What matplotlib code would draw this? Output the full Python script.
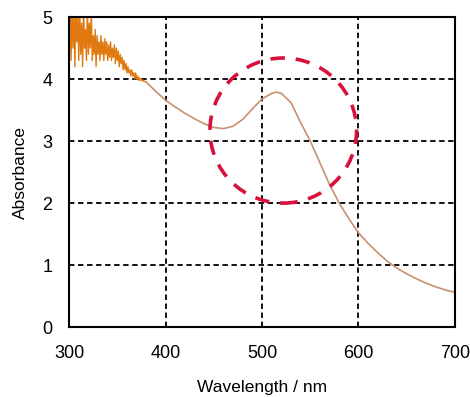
import matplotlib
matplotlib.use("Agg")
from matplotlib import pyplot as plt
from matplotlib.patches import Ellipse

plt.rcParams['font.family'] = ['Liberation Sans', 'DejaVu Sans']

# noisy short-wavelength part (1 nm steps)
wl_noisy = list(range(300, 381))
abs_noisy = [4.2, 5.2, 4.3, 5.2, 4.5, 5.1, 4.2, 5.3, 4.6, 5.0,
             4.3, 5.2, 4.4, 4.9, 4.2, 5.2, 4.5, 4.8, 4.3, 5.2,
             4.4, 4.9, 4.5, 5.1, 4.3, 4.7, 4.4, 4.8, 4.2, 4.7,
             4.4, 4.6, 4.3, 4.7, 4.4, 4.6, 4.3, 4.65, 4.4, 4.6,
             4.3, 4.55, 4.35, 4.6, 4.3, 4.5, 4.35, 4.55, 4.25, 4.5,
             4.3, 4.45, 4.2, 4.4, 4.25, 4.35, 4.15, 4.3, 4.15, 4.25,
             4.1, 4.2, 4.1, 4.15, 4.05, 4.15, 4.05, 4.1, 4.0, 4.1,
             4.0, 4.05, 3.98, 4.02, 3.98, 4.0, 3.97, 3.98, 3.96, 3.96,
             3.95]

# smooth part of the spectrum
wl_smooth = [380, 390, 400, 410, 420, 430, 440, 450, 460, 470, 480, 490, 500, 510,
             515, 520, 530, 540, 550, 560, 570, 580, 590, 600, 610, 620, 630, 640,
             650, 660, 670, 680, 690, 700]
abs_smooth = [3.95, 3.80, 3.66, 3.55, 3.45, 3.36, 3.28, 3.22, 3.20, 3.24, 3.35, 3.52,
              3.68, 3.77, 3.79, 3.77, 3.62, 3.30, 3.00, 2.65, 2.30, 2.00, 1.75, 1.52,
              1.35, 1.20, 1.06, 0.95, 0.86, 0.78, 0.71, 0.65, 0.60, 0.56]

x_ticks = [300, 400, 500, 600, 700]
y_ticks = [0, 1, 2, 3, 4, 5]

fig = plt.figure(figsize=(4.70, 3.97), dpi=100)
ax = fig.add_axes([0.147, 0.176, 0.821, 0.781])

ax.plot(wl_noisy, abs_noisy, color='#e07a10', lw=1.0)
ax.plot(wl_smooth, abs_smooth, color='#c89070', lw=1.2)

# highlight circle around the plasmon band
ax.add_patch(Ellipse((522, 3.17), 152, 2.34, fill=False, edgecolor='#d8103c',
                     lw=2.6, linestyle=(0, (4, 3)), zorder=3))

ax.set_xlim(300, 700)
ax.set_ylim(0, 5)
ax.set_xticks(x_ticks)
ax.set_yticks(y_ticks)
ax.grid(True, color='black', linestyle=(0, (3, 2)), lw=1.3)
ax.tick_params(axis='both', length=0, labelsize=13)
ax.tick_params(axis='x', pad=13)
ax.tick_params(axis='y', pad=12)
for s in ax.spines.values():
    s.set_linewidth(1.5)

ax.set_xlabel('Wavelength / nm', fontsize=12.5, labelpad=13)
ax.set_ylabel('Absorbance', fontsize=12.5, labelpad=10)

fig.savefig('out.png', dpi=100)
